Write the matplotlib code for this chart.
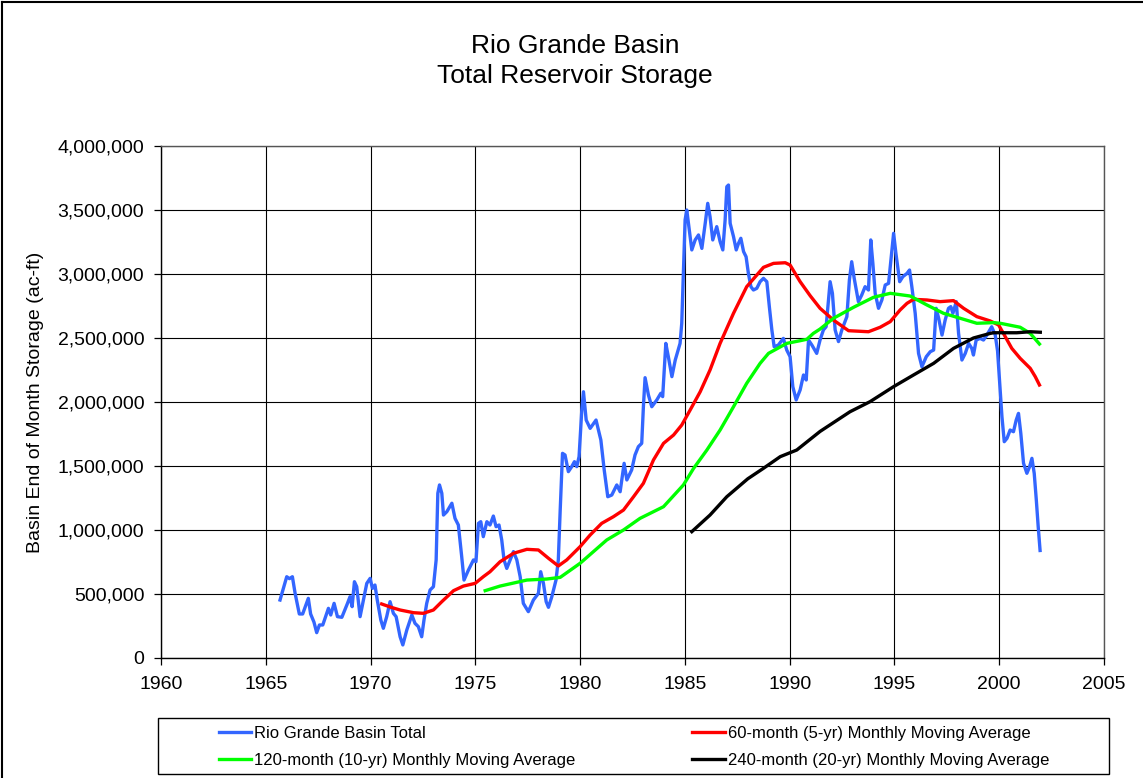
import matplotlib
matplotlib.use("Agg")
import matplotlib.pyplot as plt
from matplotlib.lines import Line2D
from matplotlib.patches import Rectangle
from matplotlib.ticker import FuncFormatter, MultipleLocator

plt.rcParams['font.family'] = ['Liberation Sans', 'DejaVu Sans']

# ---------------- data (storage in thousands of ac-ft) ----------------
total_year = [1965.68, 1966.00, 1966.13, 1966.27, 1966.40, 1966.60, 1966.76, 1967.03, 1967.14, 1967.30,
              1967.43, 1967.56, 1967.72, 1967.99, 1968.10, 1968.26, 1968.42, 1968.63, 1968.90, 1969.02,
              1969.12, 1969.23, 1969.34, 1969.50, 1969.69, 1969.82, 1969.98, 1970.09, 1970.21, 1970.32,
              1970.49, 1970.61, 1970.77, 1970.93, 1971.09, 1971.22, 1971.41, 1971.54, 1971.73, 1971.97,
              1972.12, 1972.28, 1972.44, 1972.55, 1972.68, 1972.84, 1973.00, 1973.13, 1973.21, 1973.29,
              1973.40, 1973.48, 1973.64, 1973.88, 1974.03, 1974.19, 1974.35, 1974.46, 1974.67, 1974.91,
              1975.03, 1975.15, 1975.26, 1975.38, 1975.55, 1975.70, 1975.86, 1975.99, 1976.13, 1976.26,
              1976.37, 1976.50, 1976.66, 1976.82, 1976.98, 1977.14, 1977.29, 1977.53, 1977.77, 1978.01,
              1978.12, 1978.25, 1978.38, 1978.49, 1978.65, 1978.85, 1978.96, 1979.05, 1979.16, 1979.28,
              1979.44, 1979.60, 1979.73, 1979.84, 1979.95, 1980.08, 1980.16, 1980.29, 1980.48, 1980.76,
              1980.99, 1981.15, 1981.32, 1981.51, 1981.75, 1981.91, 1982.10, 1982.23, 1982.46, 1982.62,
              1982.78, 1982.94, 1983.02, 1983.10, 1983.26, 1983.42, 1983.66, 1983.85, 1983.94, 1984.09,
              1984.21, 1984.38, 1984.54, 1984.77, 1984.85, 1984.93, 1985.01, 1985.09, 1985.25, 1985.33,
              1985.49, 1985.65, 1985.81, 1985.97, 1986.09, 1986.20, 1986.33, 1986.52, 1986.68, 1986.81,
              1986.92, 1987.00, 1987.08, 1987.16, 1987.32, 1987.45, 1987.56, 1987.67, 1987.80, 1987.92,
              1988.03, 1988.15, 1988.27, 1988.43, 1988.59, 1988.75, 1988.91, 1989.03, 1989.15, 1989.26,
              1989.46, 1989.70, 1989.86, 1990.02, 1990.15, 1990.31, 1990.50, 1990.66, 1990.79, 1990.90,
              1991.06, 1991.29, 1991.45, 1991.61, 1991.74, 1991.85, 1991.93, 1992.04, 1992.17, 1992.33,
              1992.49, 1992.73, 1992.85, 1992.96, 1993.08, 1993.28, 1993.44, 1993.60, 1993.76, 1993.87,
              1993.97, 1994.08, 1994.24, 1994.40, 1994.56, 1994.72, 1994.83, 1994.96, 1995.07, 1995.25,
              1995.40, 1995.60, 1995.72, 1995.83, 1995.99, 1996.15, 1996.31, 1996.52, 1996.71, 1996.87,
              1996.99, 1997.11, 1997.27, 1997.42, 1997.58, 1997.69, 1997.79, 1997.95, 1998.06, 1998.22,
              1998.38, 1998.54, 1998.69, 1998.77, 1998.90, 1999.09, 1999.25, 1999.41, 1999.64, 1999.81,
              1999.92, 1999.99, 2000.13, 2000.24, 2000.37, 2000.52, 2000.68, 2000.81, 2000.92, 2001.03,
              2001.16, 2001.32, 2001.45, 2001.56, 2001.67, 2001.77, 2001.86, 2001.95]
total_kaf = [453, 635, 620, 635, 505, 344, 344, 466, 344, 280,
             198, 258, 258, 388, 336, 427, 323, 318, 427, 479,
             401, 596, 557, 323, 479, 583, 622, 544, 570, 453,
             297, 232, 323, 440, 349, 323, 166, 102, 219, 336,
             271, 245, 166, 297, 427, 531, 557, 766, 1287, 1352,
             1287, 1117, 1143, 1209, 1091, 1039, 791, 609, 687, 766,
             752, 1052, 1065, 948, 1065, 1039, 1109, 1026, 1039, 922,
             766, 700, 766, 831, 766, 635, 427, 362, 453, 505,
             674, 583, 440, 396, 479, 609, 766, 1156, 1599, 1586,
             1456, 1495, 1534, 1495, 1573, 1937, 2080, 1859, 1794, 1859,
             1703, 1469, 1260, 1273, 1352, 1299, 1521, 1391, 1469, 1586,
             1651, 1677, 1963, 2190, 2055, 1963, 2016, 2068, 2042, 2458,
             2354, 2198, 2328, 2458, 2615, 3031, 3422, 3500, 3292, 3188,
             3266, 3305, 3200, 3396, 3552, 3448, 3266, 3370, 3253, 3188,
             3422, 3682, 3695, 3396, 3292, 3188, 3240, 3279, 3175, 3135,
             3005, 2901, 2875, 2888, 2940, 2966, 2940, 2745, 2563, 2432,
             2445, 2497, 2406, 2354, 2120, 2016, 2094, 2211, 2172, 2484,
             2445, 2380, 2484, 2563, 2588, 2797, 2940, 2849, 2563, 2472,
             2563, 2667, 2953, 3096, 2966, 2784, 2836, 2901, 2875, 3266,
             3083, 2849, 2732, 2797, 2914, 2927, 3109, 3318, 3161, 2940,
             2979, 3005, 3031, 2901, 2693, 2380, 2276, 2354, 2393, 2406,
             2732, 2654, 2523, 2640, 2732, 2745, 2693, 2784, 2536, 2328,
             2380, 2458, 2419, 2367, 2484, 2497, 2484, 2523, 2588, 2523,
             2400, 2224, 1885, 1690, 1716, 1781, 1768, 1859, 1911, 1755,
             1521, 1443, 1495, 1560, 1443, 1234, 1026, 840]

ma60_year = [1970.53, 1971.00, 1971.41, 1972.05, 1972.52, 1973.00, 1973.40, 1973.96, 1974.43, 1974.99,
             1975.38, 1975.70, 1976.18, 1976.82, 1977.46, 1978.01, 1978.49, 1978.96, 1979.36, 1980.00,
             1980.48, 1981.03, 1981.59, 1982.07, 1982.55, 1983.02, 1983.50, 1983.98, 1984.46, 1984.85,
             1985.25, 1985.73, 1986.20, 1986.68, 1987.32, 1987.95, 1988.75, 1989.23, 1989.79, 1990.02,
             1990.50, 1990.98, 1991.45, 1992.09, 1992.81, 1993.76, 1994.32, 1994.80, 1995.27, 1995.60,
             1995.91, 1996.55, 1997.18, 1997.82, 1998.30, 1998.93, 1999.57, 1999.97, 2000.20, 2000.60,
             2001.00, 2001.48, 2001.72, 2001.92]
ma60_kaf = [422, 395, 375, 354, 349, 375, 440, 526, 562, 583,
            635, 674, 752, 818, 849, 844, 779, 719, 766, 870,
            961, 1052, 1104, 1156, 1260, 1365, 1547, 1677, 1742, 1820,
            1937, 2080, 2250, 2458, 2693, 2901, 3052, 3083, 3088, 3070,
            2940, 2830, 2732, 2640, 2557, 2549, 2584, 2628, 2719, 2771,
            2802, 2797, 2784, 2792, 2732, 2667, 2633, 2602, 2536, 2419,
            2341, 2263, 2198, 2133]

ma120_year = [1975.47, 1976.18, 1977.46, 1978.41, 1979.05, 1980.00, 1981.27, 1982.07, 1982.86, 1983.98,
              1984.93, 1985.41, 1986.05, 1986.68, 1987.32, 1987.95, 1988.59, 1988.99, 1989.86, 1990.50,
              1990.82, 1991.13, 1991.45, 1992.09, 1993.05, 1994.00, 1994.80, 1995.75, 1996.55, 1997.34,
              1998.14, 1998.93, 1999.73, 2000.05, 2001.00, 2001.48, 2001.92]
ma120_kaf = [526, 562, 609, 617, 630, 740, 922, 1000, 1091, 1182,
             1352, 1480, 1625, 1781, 1963, 2146, 2302, 2380, 2458, 2479,
             2490, 2536, 2570, 2654, 2740, 2818, 2849, 2828, 2758, 2693,
             2654, 2615, 2620, 2615, 2584, 2536, 2453]

ma240_year = [1985.33, 1986.20, 1987.00, 1988.00, 1988.75, 1989.55, 1990.34, 1990.50, 1991.45, 1992.88,
              1993.84, 1994.96, 1995.91, 1996.87, 1997.82, 1998.77, 1999.57, 1999.73, 2000.84, 2001.48,
              2001.96]
ma240_kaf = [987, 1117, 1260, 1400, 1482, 1573, 1625, 1646, 1770, 1924,
             2003, 2120, 2211, 2302, 2419, 2500, 2536, 2541, 2541, 2549,
             2545]

series_labels = ["Rio Grande Basin Total",
                 "120-month (10-yr) Monthly Moving Average",
                 "60-month (5-yr) Monthly Moving Average",
                 "240-month (20-yr) Monthly Moving Average"]
title_text = "Rio Grande Basin\nTotal Reservoir Storage"
ylabel_text = "Basin End of Month Storage (ac-ft)"
x_ticks = [1960, 1965, 1970, 1975, 1980, 1985, 1990, 1995, 2000, 2005]

# ---------------- figure ----------------
W, H = 1143, 778
fig = plt.figure(figsize=(W / 100, H / 100), dpi=100)
ax = fig.add_axes([161 / W, 1 - 658 / H, (1104 - 161) / W, (658 - 146) / H])

def k(v):
    return [x * 1000 for x in v]

lw = 2.4
c_blue, c_red, c_green, c_black = "#3366FF", "#FF0000", "#00FF00", "#000000"
l_tot, = ax.plot(total_year, k(total_kaf), color=c_blue, lw=lw, solid_joinstyle="round", zorder=3)
l_60, = ax.plot(ma60_year, k(ma60_kaf), color=c_red, lw=lw, zorder=4)
l_120, = ax.plot(ma120_year, k(ma120_kaf), color=c_green, lw=lw, zorder=5)
l_240, = ax.plot(ma240_year, k(ma240_kaf), color=c_black, lw=lw, zorder=6)

ax.set_xlim(1960, 2005)
ax.set_ylim(0, 4000000)
ax.set_xticks(x_ticks)
ax.yaxis.set_major_locator(MultipleLocator(500000))
ax.yaxis.set_major_formatter(FuncFormatter(lambda v, p: f"{v:,.0f}"))
ax.grid(True, color="black", lw=0.8, zorder=1)
ax.set_axisbelow(True)
ax.tick_params(axis="both", direction="out", length=5, width=0.9, color="black",
               labelsize=14, labelcolor="black")
ax.tick_params(axis="x", pad=8)
ax.tick_params(axis="y", pad=7)
for s in ax.spines.values():
    s.set_color("black")
    s.set_linewidth(1.0)
ax.spines["right"].set_color("#555555")
ax.spines["top"].set_color("#555555")

ax.set_ylabel(ylabel_text, fontsize=14)
ax.yaxis.set_label_coords((44 - 161) / 943, 0.5)

fig.suptitle(title_text, x=0.503, y=1 - 34 / H, fontsize=19, va="top", linespacing=1.3)

# legend
fig.legend([l_tot, l_120, l_60, l_240], series_labels, ncol=2, loc="center",
           bbox_to_anchor=(634 / W, 1 - 747 / H), frameon=False, fontsize=12,
           handlelength=1.95, handletextpad=0.2, columnspacing=7.0, labelspacing=0.72,
           borderpad=0)
fig.patches.append(Rectangle((158 / W, 1 - 774 / H), 951 / W, 56 / H, transform=fig.transFigure,
                             fill=False, edgecolor="black", lw=1.0))
# outer border (top and left)
fig.add_artist(Line2D([1.5 / W, 1], [1 - 1.5 / H, 1 - 1.5 / H], color="black", lw=1.5, transform=fig.transFigure))
fig.add_artist(Line2D([1.5 / W, 1.5 / W], [0, 1 - 1.5 / H], color="black", lw=1.5, transform=fig.transFigure))

fig.savefig("out.png", dpi=100)
